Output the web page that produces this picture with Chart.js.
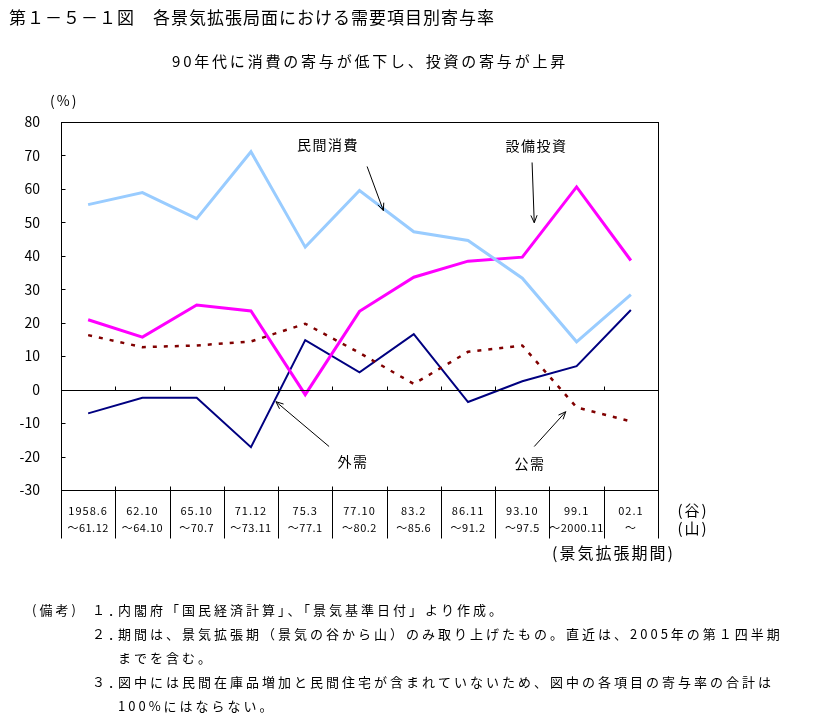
<!DOCTYPE html>
<html lang="ja">
<head>
<meta charset="UTF-8">
<title>第１－５－１図</title>
<style>
    body { margin: 0; background: #fff; }
    #wrap { position: relative; width: 814px; height: 718px; }
</style>
</head>
<body>
<div id="wrap"><canvas id="chart"></canvas></div>
<script src="https://cdn.jsdelivr.net/npm/chart.js"></script>
<script>
// 景気拡張期間（谷～山）
const periodFrom = ['1958.6', '62.10', '65.10', '71.12', '75.3', '77.10', '83.2', '86.11', '93.10', '99.1', '02.1'];
const periodTo = ['～61.12', '～64.10', '～70.7', '～73.11', '～77.1', '～80.2', '～85.6', '～91.2', '～97.5', '～2000.11', '～'];

// 寄与率（%）
const consumption = [55.3, 58.9, 51.1, 71.1, 42.6, 59.5, 47.2, 44.6, 33.3, 14.3, 28.4];   // 民間消費
const investment = [20.9, 15.7, 25.3, 23.5, -1.5, 23.4, 33.6, 38.4, 39.6, 60.6, 38.6];    // 設備投資
const external = [-7.1, -2.4, -2.4, -17.2, 14.8, 5.2, 16.6, -3.7, 2.5, 7.0, 23.8];         // 外需
const publicDemand = [16.3, 12.7, 13.2, 14.4, 19.7, 11.0, 1.7, 11.3, 13.2, -5.3, -9.5];    // 公需

const yMin = -30, yMax = 80, yStep = 10;

// 注記ラベル: [text, x(index), y(value)], 矢印: [from idx, from val, to idx, to val]
const callouts = [
    { text: '民間消費', tx: 4.42, ty: 73.2, arrow: [5.14, 66.7, 5.44, 53.5] },
    { text: '設備投資', tx: 8.26, ty: 73.0, arrow: [8.18, 67.9, 8.22, 49.9] },
    { text: '外需', tx: 4.88, ty: -21.5, arrow: [4.44, -17.0, 3.46, -3.6] },
    { text: '公需', tx: 8.14, ty: -22.1, arrow: [8.22, -17.0, 8.80, -6.6] }
];

const notes = [
    [32, 610, '(備考)'],
    [92, 610, '１．'],
    [118, 610, '内閣府「国民経済計算」、「景気基準日付」より作成。'],
    [92, 634, '２．'],
    [118, 634, '期間は、景気拡張期（景気の谷から山）のみ取り上げたもの。直近は、2005年の第１四半期'],
    [118, 658, 'までを含む。'],
    [92, 682, '３．'],
    [118, 682, '図中には民間在庫品増加と民間住宅が含まれていないため、図中の各項目の寄与率の合計は'],
    [118, 706, '100%にはならない。']
];

const FONT = '"Noto Sans CJK JP", sans-serif';

function txt(ctx, s, x, y, size, align, spacing) {
    ctx.font = size + 'px ' + FONT;
    ctx.letterSpacing = (spacing || 0) + 'px';
    ctx.textAlign = align || 'left';
    ctx.textBaseline = 'middle';
    ctx.fillStyle = '#000';
    ctx.fillText(s, x, y);
}

function arrow(ctx, x1, y1, x2, y2) {
    ctx.beginPath();
    ctx.moveTo(x1, y1);
    ctx.lineTo(x2, y2);
    const a = Math.atan2(y2 - y1, x2 - x1);
    const h = 8;
    ctx.moveTo(x2 - h * Math.cos(a - 0.4), y2 - h * Math.sin(a - 0.4));
    ctx.lineTo(x2, y2);
    ctx.lineTo(x2 - h * Math.cos(a + 0.4), y2 - h * Math.sin(a + 0.4));
    ctx.stroke();
}

const decorations = {
    id: 'decorations',
    afterDraw(chart) {
        const ctx = chart.ctx;
        const area = chart.chartArea;
        const xs = chart.scales.x, ys = chart.scales.y;
        const L = Math.round(area.left) + 0.5, R = Math.round(area.right) + 0.5;
        const T = Math.round(area.top) + 0.5, B = Math.round(area.bottom) + 0.5;
        const cell = (area.right - area.left) / periodFrom.length;
        ctx.save();
        ctx.strokeStyle = '#000';
        ctx.lineWidth = 1;

        // frame
        ctx.strokeRect(L, T, R - L, B - T);
        // zero line
        const y0 = Math.round(ys.getPixelForValue(0)) + 0.5;
        ctx.beginPath();
        ctx.moveTo(L, y0); ctx.lineTo(R, y0);
        // inner ticks on y axis
        for (let v = yMin; v <= yMax; v += yStep) {
            const y = Math.round(ys.getPixelForValue(v)) + 0.5;
            ctx.moveTo(L, y); ctx.lineTo(L + 4, y);
        }
        // category boundaries: ticks on zero line and separators under the plot
        for (let i = 0; i <= periodFrom.length; i++) {
            const x = Math.round(area.left + cell * i) + 0.5;
            ctx.moveTo(x, y0); ctx.lineTo(x, y0 - 4);
            ctx.moveTo(x, B - 4); ctx.lineTo(x, B + 48);
        }
        ctx.stroke();

        // category labels
        periodFrom.forEach((s, i) => {
            const x = xs.getPixelForValue(i);
            txt(ctx, s, x, B + 20, 11, 'center', 1);
            txt(ctx, periodTo[i], x, B + 37, 11, 'center', 0.5);
        });
        txt(ctx, '(谷)', R + 19, B + 20, 15, 'left', 2);
        txt(ctx, '(山)', R + 19, B + 38, 15, 'left', 2);
        txt(ctx, '(景気拡張期間)', 552, 553, 16, 'left', 2);

        // titles
        txt(ctx, '第１－５－１図　各景気拡張局面における需要項目別寄与率', 9, 18, 17, 'left', 1);
        txt(ctx, '90年代に消費の寄与が低下し、投資の寄与が上昇', 172, 61, 15, 'left', 2.8);
        txt(ctx, '(%)', 50, 101, 14, 'left', 2);

        // callouts
        callouts.forEach(c => {
            txt(ctx, c.text, xs.getPixelForValue(c.tx), ys.getPixelForValue(c.ty), 14, 'center', 1.5);
            const [fx, fy, tx, ty] = c.arrow;
            arrow(ctx, xs.getPixelForValue(fx), ys.getPixelForValue(fy),
                       xs.getPixelForValue(tx), ys.getPixelForValue(ty));
        });

        // notes
        notes.forEach(n => txt(ctx, n[2], n[0], n[1], 13, 'left', 3));
        ctx.restore();
    }
};

const ctx = document.getElementById('chart').getContext('2d');
new Chart(ctx, {
    type: 'line',
    data: {
        labels: periodFrom,
        datasets: [
            {
                label: '公需',
                data: publicDemand,
                borderColor: '#800000',
                borderWidth: 2.5,
                borderDash: [4, 7]
            },
            {
                label: '民間消費',
                data: consumption,
                borderColor: '#99CCFF',
                borderWidth: 3
            },
            {
                label: '設備投資',
                data: investment,
                borderColor: '#FF00FF',
                borderWidth: 3
            },
            {
                label: '外需',
                data: external,
                borderColor: '#000080',
                borderWidth: 2
            }
        ]
    },
    options: {
        responsive: true,
        maintainAspectRatio: false,
        animation: false,
        layout: { padding: { left: 0, top: 122, right: 156, bottom: 228 } },
        elements: {
            point: { radius: 0 },
            line: { tension: 0, borderCapStyle: 'butt' }
        },
        plugins: {
            legend: { display: false },
            tooltip: { enabled: false }
        },
        scales: {
            x: {
                type: 'category',
                offset: true,
                display: false
            },
            y: {
                min: yMin,
                max: yMax,
                afterFit(axis) { axis.width = 61; },
                grid: { display: false },
                border: { display: false },
                ticks: {
                    stepSize: yStep,
                    padding: 13,
                    color: '#000',
                    font: { family: FONT, size: 14 }
                }
            }
        }
    },
    plugins: [decorations]
});
</script>
</body>
</html>
